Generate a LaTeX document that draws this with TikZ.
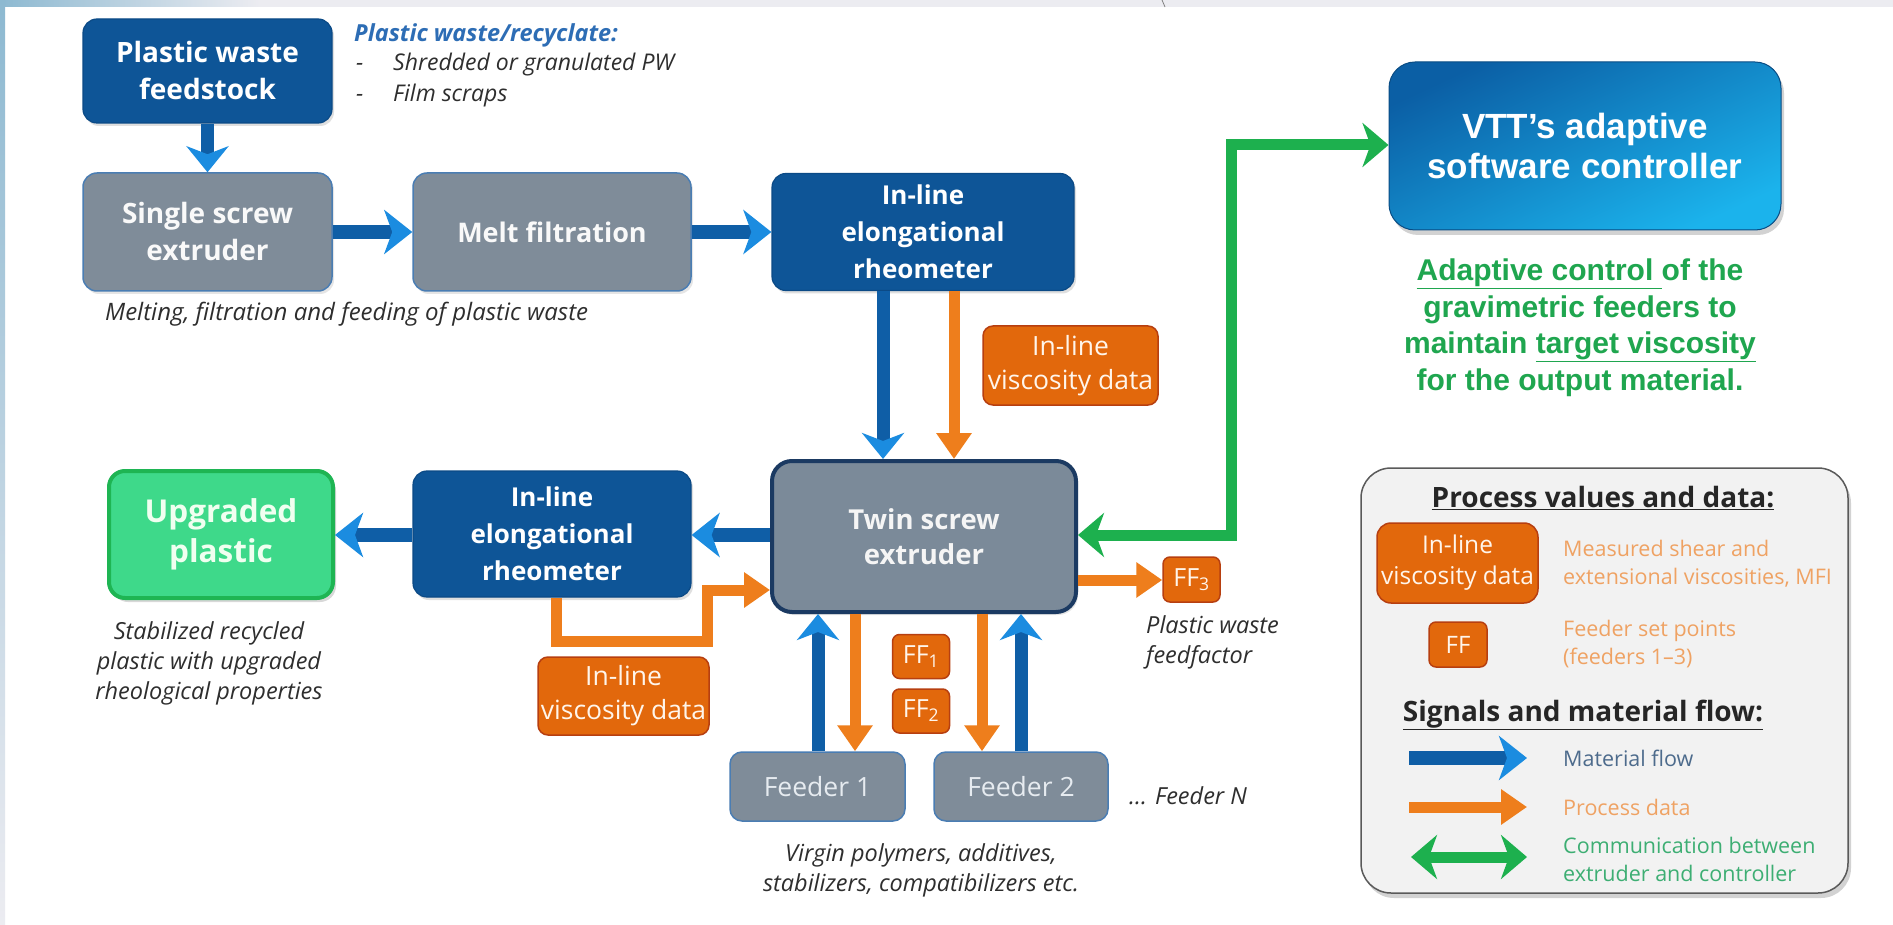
\documentclass[tikz,border=0pt]{standalone}
\usepackage{fontspec}
\setmainfont{Open Sans}
\newfontfamily\arialf{Liberation Sans}
\usetikzlibrary{arrows.meta,shadows,calc}
\definecolor{dblue}{HTML}{0E5597}
\definecolor{dblueedge}{HTML}{0B4A86}
\definecolor{boxgray}{HTML}{7F8C99}
\definecolor{grayedge}{HTML}{4A7DB3}
\definecolor{navy}{HTML}{1B3A62}
\definecolor{twinfill}{HTML}{7B8A99}
\definecolor{orng}{HTML}{E2680C}
\definecolor{orngedge}{HTML}{B73F10}
\definecolor{arrblue}{HTML}{0F5EA6}
\definecolor{arrblueB}{HTML}{1B8CE0}
\definecolor{arrorange}{HTML}{EE7E1C}
\definecolor{grn}{HTML}{1DB04E}
\definecolor{gtext}{HTML}{1FA64F}
\definecolor{upfill}{HTML}{3ED98A}
\definecolor{upedge}{HTML}{1EB553}
\definecolor{captxt}{HTML}{2E2E2E}
\definecolor{pwblue}{HTML}{2D6DB5}
\definecolor{legorange}{HTML}{EFA263}
\definecolor{legblue}{HTML}{4D6B8C}
\definecolor{leggreen}{HTML}{3DAE73}
\definecolor{legfill}{HTML}{F2F2F2}
\definecolor{legedge}{HTML}{5A5A5A}
\definecolor{ctrlA}{HTML}{0B5FA5}
\definecolor{ctrlB}{HTML}{1BB3EC}
\definecolor{topgray}{HTML}{ECECF1}
\definecolor{lbl}{HTML}{8DB9D1}
\definecolor{feedtxt}{HTML}{E6EBF0}
\tikzset{
  box/.style={rounded corners=14pt, align=center, text=white, inner sep=0pt,
    font=\fontsize{28}{37}\selectfont\bfseries},
  bluebox/.style={box, fill=dblue, draw=dblueedge, line width=1.2pt,
    drop shadow={shadow xshift=2pt, shadow yshift=-3pt, opacity=.25}},
  graybox/.style={box, fill=boxgray, draw=grayedge, line width=1.5pt, text=white!95!gray,
    drop shadow={shadow xshift=2pt, shadow yshift=-3pt, opacity=.2}},
  rheofont/.style={font=\fontsize{26}{37}\selectfont\bfseries},
  feedbox/.style={rounded corners=12pt, align=center, text=feedtxt, inner sep=0pt,
    fill=boxgray, draw=grayedge, line width=1.5pt, font=\fontsize{26.5}{34}\selectfont},
  obox/.style={rounded corners=10pt, fill=orng, draw=orngedge, line width=1.5pt,
    text=white!92!orange, align=center, inner sep=0pt, font=\fontsize{26.5}{34}\selectfont},
  ffbox/.style={obox, minimum width=57pt, minimum height=44pt, rounded corners=7pt,
    font=\fontsize{25}{30}\selectfont},
  captxtstyle/.style={text=captxt, font=\fontsize{23.5}{30}\selectfont\itshape, inner sep=0pt},
  legtxt/.style={font=\fontsize{21.5}{28}\selectfont, inner sep=0pt, align=left, anchor=west},
  legtitle/.style={font=\fontsize{28}{32}\selectfont\bfseries, text=black!85, inner sep=0pt},
  matflow/.style={line width=14pt, draw=arrblue,
    -{Stealth[length=28pt,width=44pt,inset=8pt,color=arrblueB]}},
  matflowv/.style={line width=13pt, draw=arrblue,
    -{Stealth[length=26pt,width=42pt,inset=8pt,color=arrblueB]}},
  procdata/.style={line width=11pt, draw=arrorange,
    -{Triangle[length=26pt,width=34pt,color=arrorange]}},
  comm/.style={line width=11pt, draw=grn,
    {Stealth[length=26pt,width=44pt,inset=8pt]}-{Stealth[length=26pt,width=44pt,inset=8pt]}}
}
\begin{document}
\begin{tikzpicture}[x=1pt,y=-1pt]
\useasboundingbox (0,0) rectangle (1893,925);
\fill[white] (0,0) rectangle (1893,925);
% screenshot edges
\fill[topgray] (0,0) rectangle (1893,7);
\shade[left color=lbl, right color=topgray] (0,0) rectangle (260,7);
\shade[top color=lbl, bottom color=topgray] (0,0) rectangle (5,925);
\draw[gray, line width=0.8pt] (1162,0) -- (1165,7);

% main boxes
\node[bluebox, minimum width=249pt, minimum height=104pt] (feed) at (207.5,71) {Plastic waste\\feedstock};
\node[graybox, minimum width=249pt, minimum height=118pt] (single) at (207.5,232) {Single screw\\extruder};
\node[graybox, minimum width=278pt, minimum height=118pt, font=\fontsize{27}{37}\selectfont\bfseries] (melt) at (552,232) {Melt filtration};
\node[bluebox, rheofont, minimum width=302pt, minimum height=117pt] (rheoT) at (923,232) {In-line\\elongational\\rheometer};
\node[rounded corners=26pt, minimum width=392pt, minimum height=168pt, inner sep=0pt,
      top color=ctrlA, bottom color=ctrlB, shading angle=25, draw=ctrlA!80!black, line width=1pt,
      drop shadow={shadow xshift=3pt, shadow yshift=-5pt, opacity=.35},
      align=center, text=white, font=\arialf\fontsize{35}{40}\selectfont\bfseries] (ctrl) at (1585,146)
      {VTT’s adaptive\\software controller};
\node[box, fill=twinfill, draw=navy, line width=4pt, rounded corners=20pt, text=white!92!gray,
      minimum width=304pt, minimum height=151pt, font=\fontsize{27.5}{35}\selectfont\bfseries,
      drop shadow={shadow xshift=2pt, shadow yshift=-3pt, opacity=.2}] (twin) at (924,536.5) {Twin screw\\extruder};
\node[bluebox, rheofont, minimum width=278pt, minimum height=126pt] (rheoL) at (552,534) {In-line\\elongational\\rheometer};
\node[box, fill=upfill, draw=upedge, line width=4pt, rounded corners=16pt, text=white!94!green,
      minimum width=224pt, minimum height=127pt, font=\fontsize{31.5}{40}\selectfont\bfseries,
      drop shadow={shadow xshift=3pt, shadow yshift=-4pt, opacity=.3}] (upg) at (221,534.5) {Upgraded\\plastic};

% orange data boxes
\node[obox, minimum width=175pt, minimum height=79pt] (vizT) at (1070.5,365.5) {In-line\\viscosity data};
\node[obox, minimum width=171pt, minimum height=78pt] (vizL) at (623.5,696) {In-line\\viscosity data};
\node[ffbox, minimum height=45pt] (ff3) at (1191.5,579.5) {FF\textsubscript{3}};
\node[ffbox] (ff1) at (921,656.5) {FF\textsubscript{1}};
\node[ffbox] (ff2) at (921,711) {FF\textsubscript{2}};

% feeders
\node[feedbox, minimum width=175pt, minimum height=69pt] (fd1) at (817.5,786.5) {Feeder 1};
\node[feedbox, minimum width=174pt, minimum height=69pt] (fd2) at (1021,786.5) {Feeder 2};

% helper coordinates
\coordinate (xA) at (883,0);
\coordinate (xB) at (954,0);
\coordinate (xC) at (818,0);
\coordinate (xD) at (855,0);
\coordinate (xE) at (982,0);
\coordinate (xF) at (1021,0);
\coordinate (xG) at (1231,0);
\coordinate (xH) at (556,0);
\coordinate (xI) at (707,0);
\coordinate (yA) at (0,535);
\coordinate (yB) at (0,590);
\coordinate (yC) at (0,641);
\coordinate (yD) at (0,145);
\coordinate (yE) at (0,580);

% material flow
\draw[matflowv] (feed.south) -- (single.north);
\draw[matflow] (single.east) -- (melt.west);
\draw[matflow] (melt.east) -- (rheoT.west);
\draw[matflowv] (rheoT.south -| xA) -- (twin.north -| xA);
\draw[matflow] (twin.west |- yA) -- (rheoL.east |- yA);
\draw[matflow] (rheoL.west |- yA) -- (upg.east |- yA);
\draw[matflowv] (fd1.north -| xC) -- (twin.south -| xC);
\draw[matflowv] (fd2.north -| xF) -- (twin.south -| xF);

% process data
\draw[procdata] (rheoT.south -| xB) -- (twin.north -| xB);
\draw[procdata] (rheoL.south -| xH) -- (xH |- yC) -- (xI |- yC) -- (xI |- yB) -- (twin.west |- yB);
\draw[procdata] (twin.east |- yE) -- (ff3.west |- yE);
\draw[procdata] (twin.south -| xD) -- (fd1.north -| xD);
\draw[procdata] (twin.south -| xE) -- (fd2.north -| xE);

% communication
\draw[comm] (twin.east |- yA) -- (xG |- yA) -- (xG |- yD) -- (ctrl.west |- yD);

% texts
\node[anchor=mid west, inner sep=0pt, text=pwblue, font=\fontsize{23.5}{28}\selectfont\bfseries\itshape] (pwt) at (354,39) {Plastic waste/recyclate:};
\node[captxtstyle, anchor=mid west, font=\fontsize{23}{28}\selectfont\itshape] (d1) at (356,68) {-};
\node[captxtstyle, anchor=mid west, font=\fontsize{23}{28}\selectfont\itshape] (s1) at (393,68) {Shredded or granulated PW};
\node[captxtstyle, anchor=mid west, font=\fontsize{23}{28}\selectfont\itshape] (d2) at (356,99) {-};
\node[captxtstyle, anchor=mid west, font=\fontsize{23}{28}\selectfont\itshape] (s2) at (393,99) {Film scraps};
\node[captxtstyle, anchor=mid west, font=\fontsize{24}{30}\selectfont\itshape] (meltcap) at (105,318) {Melting, filtration and feeding of plastic waste};
\node[captxtstyle, align=center] (stabcap) at (209,663) {Stabilized recycled\\plastic with upgraded\\rheological properties};
\node[captxtstyle, align=left, anchor=west] (pwff) at (1146,642) {Plastic waste\\feedfactor};
\node[captxtstyle, anchor=mid west] (fdn) at (1129,802) {... Feeder N};
\node[captxtstyle, align=center] (virgin) at (921,870) {Virgin polymers, additives,\\stabilizers, compatibilizers etc.};
\node[align=center, inner sep=0pt, text=gtext, font=\arialf\fontsize{30}{36.5}\selectfont\bfseries] (adapt) at (1580,327.5)
  {\underline{Adaptive control\ }of the\\gravimetric feeders to\\maintain \underline{target viscosity}\\for the output material.};

% legend
\node[rounded corners=30pt, fill=legfill, draw=legedge, line width=1.5pt,
      minimum width=487pt, minimum height=425pt, inner sep=0pt,
      drop shadow={shadow xshift=3pt, shadow yshift=-5pt, opacity=.35}] (leg) at (1604.5,680.5) {};
\node[legtitle] (lt1) at (1603,498) {\underline{Process values and data:}};
\node[obox, minimum width=161pt, minimum height=80pt, rounded corners=14pt, font=\fontsize{24.5}{31}\selectfont] (lviz) at (1457.5,563) {In-line\\viscosity data};
\node[legtxt, text=legorange] (lvizt) at (1563,563.5) {Measured shear and\\extensional viscosities, MFI};
\node[obox, minimum width=58pt, minimum height=45pt, rounded corners=7pt, font=\fontsize{24}{28}\selectfont] (lff) at (1458,644.5) {FF};
\node[legtxt, text=legorange] (lfft) at (1563,644) {Feeder set points\\(feeders 1–3)};
\node[legtitle] (lt2) at (1583,715) {\underline{Signals and material flow:}};
\coordinate (la1) at (1409,758);
\coordinate (la2) at (1527,758);
\coordinate (lb1) at (1409,807);
\coordinate (lb2) at (1527,807);
\coordinate (lc1) at (1411,857);
\coordinate (lc2) at (1527,857);
\draw[matflow] (la1) -- (la2);
\draw[procdata] (lb1) -- (lb2);
\draw[comm] (lc1) -- (lc2);
\node[legtxt, text=legblue] (lat) at (1563,758) {Material flow};
\node[legtxt, text=legorange] (lbt) at (1563,807) {Process data};
\node[legtxt, text=leggreen] (lct) at (1563,859) {Communication between\\extruder and controller};
\end{tikzpicture}
\end{document}
